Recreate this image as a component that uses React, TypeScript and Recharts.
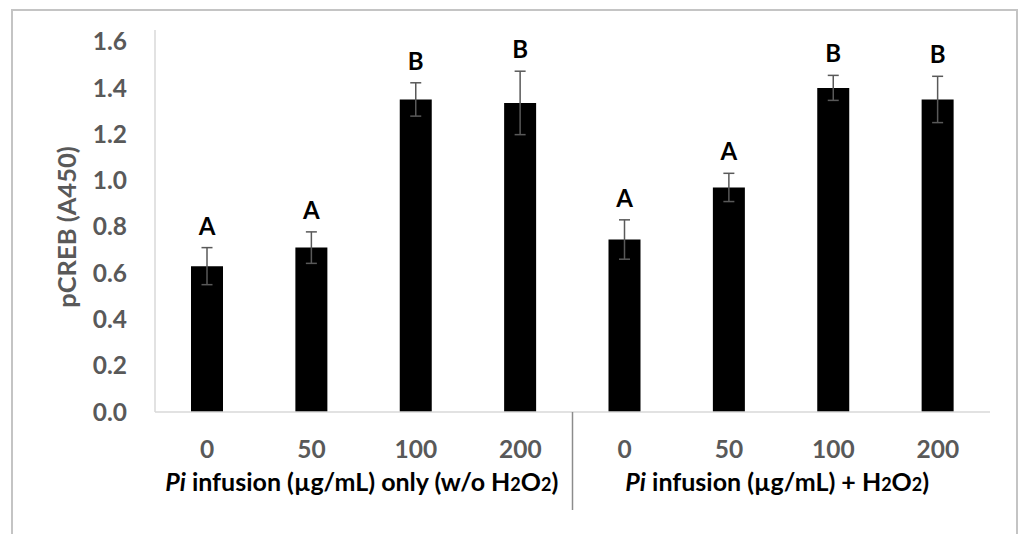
import React from 'react';
import { BarChart, Bar, XAxis, YAxis, ErrorBar, LabelList } from 'recharts';

const categories = ['g1-0', 'g1-50', 'g1-100', 'g1-200', 'g2-0', 'g2-50', 'g2-100', 'g2-200'];
const doseLabels = ['0', '50', '100', '200', '0', '50', '100', '200'];
const values = [0.63, 0.71, 1.35, 1.335, 0.745, 0.97, 1.40, 1.35];
const errors = [0.08, 0.068, 0.072, 0.137, 0.085, 0.061, 0.054, 0.10];
const letters = ['A', 'A', 'B', 'B', 'A', 'A', 'B', 'B'];
const yTicks = [0, 0.2, 0.4, 0.6, 0.8, 1.0, 1.2, 1.4, 1.6];
const yTitle = 'pCREB (A450)';
const groupMiddleIndex = [1, 5];
const groupTexts = [' infusion (µg/mL) only (w/o H', ' infusion (µg/mL) + H'];
const groupEnds = [')', ')'];

const data = categories.map((c, i) => ({
  key: c,
  dose: doseLabels[i],
  value: values[i],
  err: errors[i],
  letter: letters[i],
}));

const FONT = 'Lato, "Open Sans", sans-serif';
const TICK_GRAY = '#595959';

const XTick = (props: any) => {
  const { x, y, payload } = props;
  const idx = payload.index;
  const off = payload.offset || 0;
  const els: any[] = [];
  els.push(
    <text key="t" x={x} y={y + 46} textAnchor="middle" fontFamily={FONT} fontWeight="bold" fontSize={24.5} fill={TICK_GRAY}>
      {doseLabels[idx]}
    </text>
  );
  const gi = groupMiddleIndex.indexOf(idx);
  if (gi >= 0) {
    els.push(
      <text key="g" x={x + off - (gi === 1 ? 4 : 2)} y={y + 79} textAnchor="middle" fontFamily={FONT} fontWeight="bold" fontSize={25} fill="#000">
        <tspan fontStyle="italic">Pi</tspan>
        <tspan>{groupTexts[gi]}</tspan>
        <tspan fontSize={18}>2</tspan>
        <tspan>O</tspan>
        <tspan fontSize={18}>2</tspan>
        <tspan>{groupEnds[gi]}</tspan>
      </text>
    );
  }
  if (idx === 3) {
    els.push(<line key="d" x1={x + off} x2={x + off} y1={y} y2={y + 98} stroke="#8c8c8c" strokeWidth={1.5} />);
  }
  return <g>{els}</g>;
};

const LetterLabel = (props: any) => {
  const { x, y, width, height, value, index } = props;
  const v = values[index];
  const pxPerUnit = v ? height / v : 0;
  const top = y - errors[index] * pxPerUnit;
  return (
    <text x={x + width / 2} y={top - 13} textAnchor="middle" fontFamily={FONT} fontWeight="bold" fontSize={24} fill="#000">
      {value}
    </text>
  );
};

const YTitle = () => {
  const cx = 66;
  const cy = 227;
  return (
    <text x={cx} y={cy} transform={`rotate(-90 ${cx} ${cy})`} textAnchor="middle" dominantBaseline="central" fontFamily={FONT} fontWeight="bold" fontSize={25.5} fill={TICK_GRAY}>
      {yTitle}
    </text>
  );
};

export default function App() {
  return (
    <div style={{ position: 'absolute', left: 0, top: 0, width: 1019, height: 534, background: '#fff', overflow: 'hidden' }}>
      <div style={{ position: 'absolute', left: 11, top: 9, width: 1003, height: 560, border: '2px solid #c4c4c4' }} />
      <div style={{ position: 'absolute', left: 0, top: 0 }}>
        <BarChart width={1019} height={534} data={data} margin={{ top: 30, right: 29, bottom: 0, left: 0 }} barCategoryGap={0}>
          <XAxis
            dataKey="key"
            interval={0}
            height={122}
            tickSize={0}
            tickMargin={0}
            tickLine={false}
            axisLine={{ stroke: '#d9d9d9', strokeWidth: 1.5 }}
            tick={<XTick />}
          />
          <YAxis
            domain={[0, 1.65]}
            ticks={yTicks}
            interval={0}
            width={155}
            tickSize={0}
            tickMargin={28}
            tickLine={false}
            axisLine={{ stroke: '#d9d9d9', strokeWidth: 1.5 }}
            tickFormatter={(v: number) => v.toFixed(1)}
            tick={{ fontFamily: FONT, fontWeight: 'bold', fontSize: 24.5, fill: TICK_GRAY }}
            label={<YTitle />}
          />
          <Bar dataKey="value" fill="#000" barSize={32} isAnimationActive={false}>
            <ErrorBar dataKey="err" width={5.5} stroke="#595959" strokeWidth={1.5} direction="y" />
            <LabelList dataKey="letter" content={<LetterLabel />} />
          </Bar>
        </BarChart>
      </div>
    </div>
  );
}
